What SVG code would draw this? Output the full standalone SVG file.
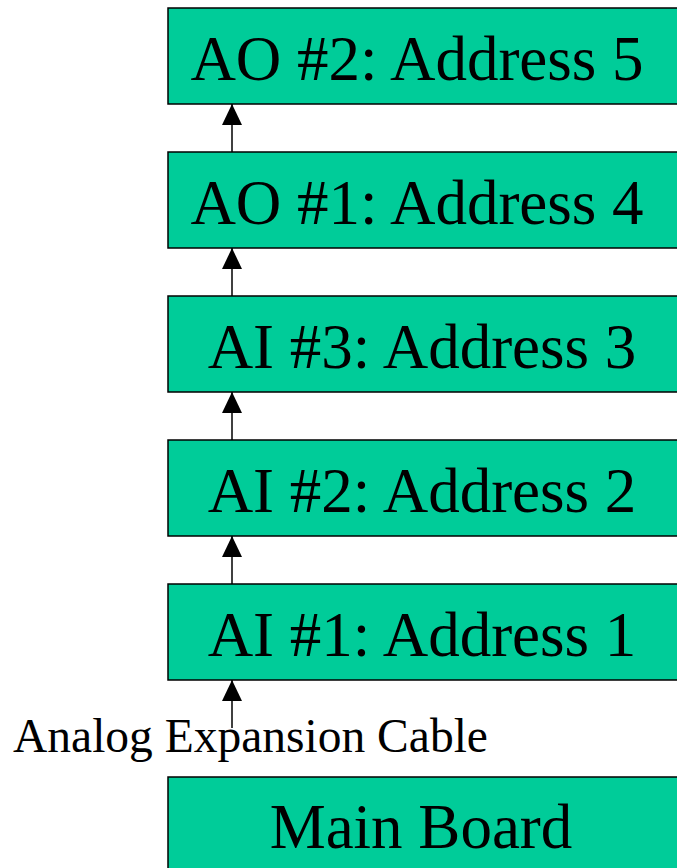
<svg xmlns="http://www.w3.org/2000/svg" width="677" height="868" viewBox="0 0 677 868">
<style>
.box{fill:#00CC99;stroke:#000;stroke-width:1.5}
.t{font-family:"Liberation Serif","Times New Roman",serif;font-size:63px;fill:#000;text-anchor:middle}
.lbl{font-family:"Liberation Serif","Times New Roman",serif;font-size:47.5px;fill:#000}
.c{stroke:#000;stroke-width:1.5;fill:none;marker-end:url(#ah)}
</style>
<defs>
<marker id="ah" markerUnits="userSpaceOnUse" markerWidth="21" markerHeight="20" refX="21" refY="10" orient="auto" viewBox="0 0 21 20">
<path d="M0 0 L21 10 L0 20 Z" fill="#000"/>
</marker>
</defs>
<rect width="677" height="868" fill="#fff"/>
<g id="ao2"><rect class="box" x="168" y="8" width="530" height="96"/><text class="t" x="417" y="80">AO #2: Address 5</text></g>
<g id="ao1"><rect class="box" x="168" y="152" width="530" height="96"/><text class="t" x="417" y="224">AO #1: Address 4</text></g>
<g id="ai3"><rect class="box" x="168" y="296" width="530" height="96"/><text class="t" x="422" y="368">AI #3: Address 3</text></g>
<g id="ai2"><rect class="box" x="168" y="440" width="530" height="96"/><text class="t" x="422" y="512">AI #2: Address 2</text></g>
<g id="ai1"><rect class="box" x="168" y="584" width="530" height="96"/><text class="t" x="422" y="656">AI #1: Address 1</text></g>
<g id="main"><rect class="box" x="168" y="777" width="530" height="120"/><text class="t" x="421" y="848">Main Board</text></g>
<g id="connectors">
<line class="c" x1="232" y1="152" x2="232" y2="104"/>
<line class="c" x1="232" y1="296" x2="232" y2="248"/>
<line class="c" x1="232" y1="440" x2="232" y2="392"/>
<line class="c" x1="232" y1="584" x2="232" y2="536"/>
<line class="c" x1="232" y1="728" x2="232" y2="680"/>
<text class="lbl" x="13" y="752">Analog Expansion Cable</text>
</g>
</svg>
